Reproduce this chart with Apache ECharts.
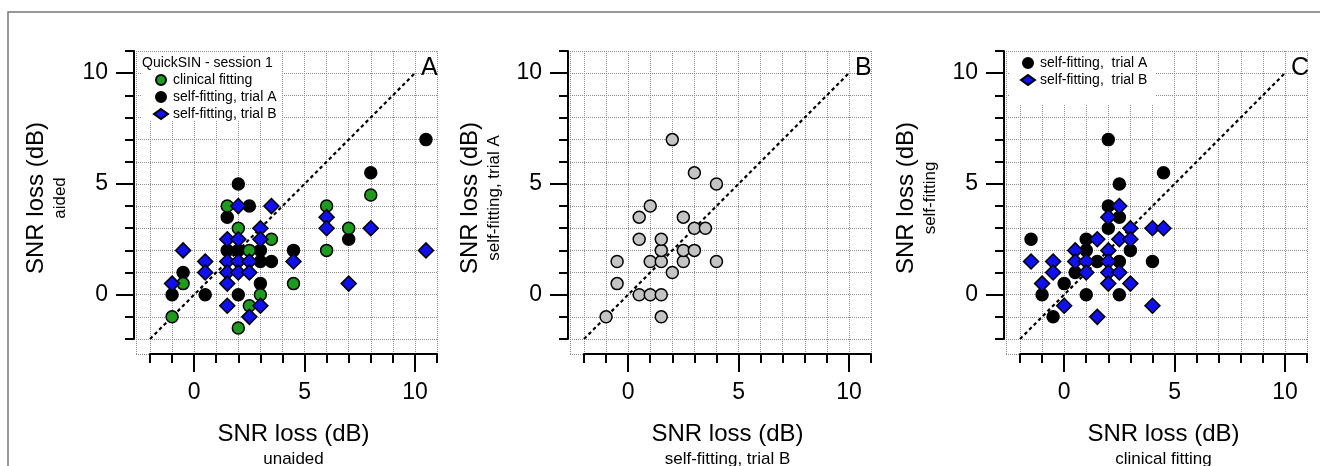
<!DOCTYPE html>
<html>
<head>
<meta charset="utf-8">
<script src="https://cdn.jsdelivr.net/npm/echarts@6/dist/echarts.min.js"></script>
<style>
html, body { margin: 0; padding: 0; background: #fff; }
#chart { width: 1320px; height: 466px; }
</style>
</head>
<body>
<div id="chart"></div>
<script>
// ---- data (SNR loss, dB) ----
// panel A: x = unaided, y = aided
const clinicalA = [[-1,-1],[-0.5,0.5],[1.5,4],[2,3],[2.5,2],[3.5,2.5],[3,0],[2.5,-0.5],[2,-1.5],[4.5,0.5],[6,4],[6,2],[7,3],[8,4.5]];
const selfTrialA_A = [[-1,0],[-0.5,1],[0.5,0],[1.5,3.5],[2,5],[2.5,4],[1.5,2],[2,2],[3,2],[3,1.5],[3.5,1.5],[3,0.5],[2,0],[4.5,2],[7,2.5],[8,5.5],[10.5,7]];
const selfTrialB_A = [[-1,0.5],[-0.5,2],[0.5,1.5],[0.5,1],[1.5,2.5],[2,2.5],[2,4],[3.5,4],[3,3],[3,2.5],[1.5,1.5],[2,1.5],[2.5,1.5],[1.5,1],[2,1],[2.5,1],[1.5,0.5],[1.5,-0.5],[3,-0.5],[2.5,-1],[4.5,1.5],[6,3.5],[6,3],[7,0.5],[8,3],[10.5,2]];
// panel B: x = self-fitting trial B, y = self-fitting trial A
const trialBvsA = [[-1,-1],[-0.5,0.5],[-0.5,1.5],[0.5,0],[1,0],[1.5,0],[1.5,-1],[0.5,2.5],[0.5,3.5],[1,4],[1,1.5],[1.5,1.5],[1.5,2],[1.5,2.5],[2,1],[2,7],[2.5,1.5],[2.5,2],[2.5,3.5],[3,2],[3,3],[3,5.5],[3.5,3],[4,5],[4,1.5]];
// panel C: x = clinical fitting, y = self-fitting
const selfTrialA_C = [[-1.5,2.5],[-1,0],[-0.5,-1],[0,0.5],[0.5,1],[1,0],[1,2.5],[1,2],[1.5,1.5],[2,7],[2,4],[2,3],[2.5,5],[2.5,3.5],[2.5,1.5],[2.5,0],[3,2],[4,1.5],[4.5,5.5]];
const selfTrialB_C = [[-1.5,1.5],[-1,0.5],[-0.5,1.5],[-0.5,1],[0,-0.5],[0.5,2],[0.5,1.5],[1,1.5],[1,1],[1.5,2.5],[1.5,-1],[2,3.5],[2,2],[2,1.5],[2,1],[2,0.5],[2.5,4],[2.5,2.5],[2.5,1],[3,3],[3,2.5],[3,0.5],[4,3],[4.5,3],[4,-0.5]];
// identity line
const identityLine = [[-2,-2],[10,10]];
// axes
const axisMin = -2, axisMax = 11;
const majorTicks = [0, 5, 10];

// ---- layout ----
const panelLeft = [150, 584, 1020];
const gridTop = 51, plotW = 287, plotH = 288;
const frameGapX = 14, frameGapY = 15;
const unitX = plotW / (axisMax - axisMin), unitY = plotH / (axisMax - axisMin);
const xFrameMin = axisMin - frameGapX / unitX;
const yFrameMin = axisMin - frameGapY / unitY;
const FONT = '"Liberation Sans", Arial, sans-serif';

const gridValsX = [xFrameMin], gridValsY = [yFrameMin];
for (let v = axisMin; v <= axisMax; v++) { gridValsX.push(v); gridValsY.push(v); }

const panels = [
    {
        letter: 'A', xTitle: 'unaided', yTitle: 'aided',
        series: [
            {name: 'self-fitting, trial A', data: selfTrialA_A, symbol: 'circle', size: 12, color: '#000000'},
            {name: 'clinical fitting', data: clinicalA, symbol: 'circle', size: 12, color: '#1e9a1e'},
            {name: 'self-fitting, trial B', data: selfTrialB_A, symbol: 'diamond', size: 15, color: '#1010ee'}
        ],
        legend: ['clinical fitting', 'self-fitting, trial A', 'self-fitting, trial B']
    },
    {
        letter: 'B', xTitle: 'self-fitting, trial B', yTitle: 'self-fitting, trial A',
        series: [
            {name: 'trial B vs trial A', data: trialBvsA, symbol: 'circle', size: 12, color: '#c4c4c4'}
        ],
        legend: null
    },
    {
        letter: 'C', xTitle: 'clinical fitting', yTitle: 'self-fitting',
        series: [
            {name: 'self-fitting,  trial A', data: selfTrialA_C, symbol: 'circle', size: 12, color: '#000000'},
            {name: 'self-fitting,  trial B', data: selfTrialB_C, symbol: 'diamond', size: 15, color: '#1010ee'}
        ],
        legend: ['self-fitting,  trial A', 'self-fitting,  trial B']
    }
];

const grid = [], xAxis = [], yAxis = [], series = [], legend = [], graphic = [];
const gridLineStyle = {color: '#8c8c8c', width: 1, type: [1, 1]};
const axisStroke = {color: '#000', width: 2};

panels.forEach((p, i) => {
    const L = panelLeft[i];
    // frame grid: dotted grid lines only
    grid.push({left: L - frameGapX, top: gridTop, width: plotW + frameGapX, height: plotH + frameGapY});
    // data grid
    grid.push({left: L, top: gridTop, width: plotW, height: plotH});
    const gFrame = 2 * i, gData = 2 * i + 1;

    xAxis.push({
        gridIndex: gFrame, type: 'value', position: 'bottom', min: xFrameMin, max: axisMax,
        axisLine: {show: false, onZero: false}, axisLabel: {show: false},
        axisTick: {show: false, customValues: gridValsX},
        splitLine: {show: true, lineStyle: gridLineStyle}
    });
    yAxis.push({
        gridIndex: gFrame, type: 'value', position: 'left', min: yFrameMin, max: axisMax,
        axisLine: {show: false, onZero: false}, axisLabel: {show: false},
        axisTick: {show: false, customValues: gridValsY},
        splitLine: {show: true, lineStyle: gridLineStyle}
    });
    const xMain = xAxis.length, yMain = yAxis.length;
    xAxis.push({
        gridIndex: gData, type: 'value', position: 'bottom', offset: frameGapY,
        min: axisMin, max: axisMax, interval: 1,
        axisLine: {show: true, onZero: false, lineStyle: axisStroke},
        axisTick: {show: true, length: 9, lineStyle: axisStroke},
        axisLabel: {
            show: true, margin: 27, fontSize: 23, fontFamily: FONT, color: '#000',
            formatter: v => majorTicks.includes(v) ? String(v) : ''
        },
        splitLine: {show: false}
    });
    yAxis.push({
        gridIndex: gData, type: 'value', position: 'left', offset: frameGapX + 2,
        min: axisMin, max: axisMax, interval: 1,
        axisLine: {show: true, onZero: false, lineStyle: axisStroke},
        axisTick: {show: true, length: 9, lineStyle: axisStroke},
        axisLabel: {
            show: true, margin: 26, fontSize: 23, fontFamily: FONT, color: '#000',
            formatter: v => majorTicks.includes(v) ? String(v) : ''
        },
        splitLine: {show: false}
    });
    // long ticks at labelled values
    xAxis.push({
        gridIndex: gData, type: 'value', position: 'bottom', offset: frameGapY,
        min: axisMin, max: axisMax,
        axisLine: {show: false, onZero: false}, axisLabel: {show: false}, splitLine: {show: false},
        axisTick: {show: true, length: 18, lineStyle: axisStroke, customValues: majorTicks}
    });
    yAxis.push({
        gridIndex: gData, type: 'value', position: 'left', offset: frameGapX + 2,
        min: axisMin, max: axisMax,
        axisLine: {show: false, onZero: false}, axisLabel: {show: false}, splitLine: {show: false},
        axisTick: {show: true, length: 18, lineStyle: axisStroke, customValues: majorTicks}
    });

    series.push({
        type: 'line', name: 'identity ' + p.letter, data: identityLine,
        xAxisIndex: xMain, yAxisIndex: yMain, symbol: 'none', silent: true, z: 1,
        lineStyle: {color: '#000', width: 2.2, type: [3.5, 3]}
    });
    p.series.forEach(s => {
        series.push({
            type: 'scatter', name: s.name, data: s.data,
            xAxisIndex: xMain, yAxisIndex: yMain,
            symbol: s.symbol, symbolSize: s.size,
            itemStyle: {color: s.color, borderColor: '#000', borderWidth: 1.5, opacity: 1}
        });
    });

    // panel letter
    graphic.push({
        type: 'text', left: L + 271, top: 56, z: 5,
        style: {text: p.letter, font: '25px ' + FONT, fill: '#000'}
    });
    // x axis titles
    const cx = L + plotW / 2;
    graphic.push({
        type: 'text', x: cx, y: 434, z: 5,
        style: {text: 'SNR loss (dB)', font: '24px ' + FONT, fill: '#000', align: 'center', verticalAlign: 'middle'}
    });
    graphic.push({
        type: 'text', x: cx, y: 459, z: 5,
        style: {text: p.xTitle, font: '17px ' + FONT, fill: '#000', align: 'center', verticalAlign: 'middle'}
    });
    // y axis titles
    const axX = L - frameGapX - 2;
    graphic.push({
        type: 'text', x: axX - 98, y: 198, rotation: Math.PI / 2, z: 5,
        style: {text: 'SNR loss (dB)', font: '24px ' + FONT, fill: '#000', align: 'center', verticalAlign: 'middle'}
    });
    graphic.push({
        type: 'text', x: axX - 74, y: 198, rotation: Math.PI / 2, z: 5,
        style: {text: p.yTitle, font: '17px ' + FONT, fill: '#000', align: 'center', verticalAlign: 'middle'}
    });
});

// legend A
graphic.push({
    type: 'rect', z: 1, shape: {x: 142, y: 52, width: 140, height: 68},
    style: {fill: '#fff'}
});
graphic.push({
    type: 'text', left: 142, top: 56, z: 5,
    style: {text: 'QuickSIN - session 1', font: '14px ' + FONT, fill: '#000'}
});
legend.push({
    data: panels[0].legend, orient: 'vertical', left: 153, top: 73,
    itemWidth: 14, itemHeight: 10, itemGap: 3, padding: 0,
    selectedMode: false,
    textStyle: {fontSize: 14, fontFamily: FONT, color: '#000'}
});
// legend C
graphic.push({
    type: 'rect', z: 1, shape: {x: 1010, y: 52, width: 145, height: 52},
    style: {fill: '#fff'}
});
legend.push({
    data: panels[2].legend, orient: 'vertical', left: 1020, top: 56,
    itemWidth: 14, itemHeight: 10, itemGap: 3, padding: 0,
    selectedMode: false,
    textStyle: {fontSize: 14, fontFamily: FONT, color: '#000'}
});

// figure border
graphic.push({
    type: 'rect', z: 0, shape: {x: 8, y: 12, width: 1400, height: 500},
    style: {fill: 'none', stroke: '#777', lineWidth: 1.5}
});

const chart = echarts.init(document.getElementById('chart'), null, {renderer: 'canvas'});
chart.setOption({
    animation: false,
    backgroundColor: '#fff',
    grid: grid,
    xAxis: xAxis,
    yAxis: yAxis,
    legend: legend,
    series: series,
    graphic: graphic
});
</script>
</body>
</html>
